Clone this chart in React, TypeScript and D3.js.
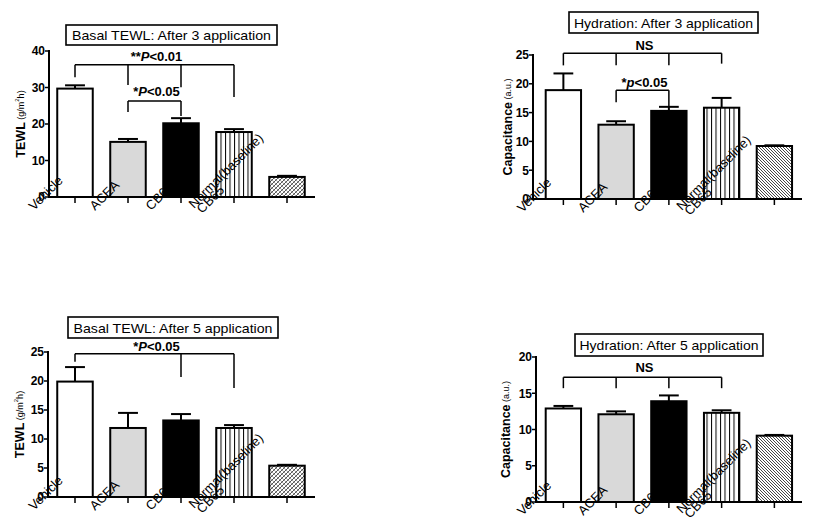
import React from "react";
import * as d3 from "d3";

const FONT = "'Liberation Sans', Arial, sans-serif";

// ---- data ----
const groups = ["Vehicle", "ACEA", "CB65", "Normal", "Other"];
const tickLabels: string[][] = [["Vehicle"], ["ACEA"], ["CB65"], ["Normal(baseline)", "CB65"], []];

const tewl3Mean = [29.7, 15.1, 20.2, 17.8, 5.5];
const tewl3Err = [0.9, 0.8, 1.4, 0.8, 0.3];
const hyd3Mean = [18.9, 12.9, 15.3, 15.85, 9.2];
const hyd3Err = [2.9, 0.6, 0.7, 1.7, 0.12];
const tewl5Mean = [19.9, 11.9, 13.2, 11.9, 5.4];
const tewl5Err = [2.5, 2.6, 1.1, 0.5, 0.15];
const hyd5Mean = [12.9, 12.1, 13.9, 12.3, 9.15];
const hyd5Err = [0.35, 0.4, 0.8, 0.35, 0.1];

const titles = [
  "Basal TEWL: After 3 application",
  "Hydration: After 3 application",
  "Basal TEWL: After 5 application",
  "Hydration: After 5 application",
];

type Part = { t: string; italic?: boolean };
type Bracket = { cats: number[]; y: number; legs: number[]; label: Part[]; labelY: number };

const brTewl3: Bracket[] = [
  { cats: [0, 1, 2, 3], y: 36.2, legs: [32.8, 30.7, 30.1, 27.4], label: [{ t: "**" }, { t: "P", italic: true }, { t: "<0.01" }], labelY: 38.6 },
  { cats: [1, 2], y: 26.3, legs: [23.3, 22.2], label: [{ t: "*" }, { t: "P", italic: true }, { t: "<0.05" }], labelY: 28.9 },
];
const brHyd3: Bracket[] = [
  { cats: [0, 1, 2, 3], y: 25.3, legs: [23.2, 23.2, 23.2, 23.5], label: [{ t: "NS" }], labelY: 26.7 },
  { cats: [1, 2], y: 18.9, legs: [16.8, 16.0], label: [{ t: "*" }, { t: "p", italic: true }, { t: "<0.05" }], labelY: 20.2 },
];
const brTewl5: Bracket[] = [
  { cats: [0, 2, 3], y: 24.7, legs: [23.3, 20.7, 18.8], label: [{ t: "*" }, { t: "P", italic: true }, { t: "<0.05" }], labelY: 25.9 },
];
const brHyd5: Bracket[] = [
  { cats: [0, 1, 2, 3], y: 17.2, legs: [15.7, 15.7, 15.7, 15.7], label: [{ t: "NS" }], labelY: 18.5 },
];

// layout offsets for the rotated category labels (start of text relative to tick / axis)
const labelOffsets: [number, number][][] = [
  [[-41, 14]],
  [[-33, 14]],
  [[-30, 14]],
  [[-40, 12], [-32, 17]],
  [],
];

type Cfg = {
  id: string;
  title: string;
  titleBox: [number, number, number, number];
  titleWidth: number;
  axisX: number;
  yTop: number;
  yBot: number;
  yMax: number;
  yStep: number;
  xRange: [number, number];
  axisEnd: number;
  means: number[];
  errs: number[];
  brackets: Bracket[];
  yMain: string;
  ySub: "tewl" | "au";
  yLabelX: number;
  fifth: "cross" | "diag";
};

const panels: Cfg[] = [
  {
    id: "p1", title: titles[0], titleBox: [66, 25, 277, 45], titleWidth: 199,
    axisX: 49, yTop: 51, yBot: 197, yMax: 40, yStep: 10, xRange: [48.5, 313.5], axisEnd: 315,
    means: tewl3Mean, errs: tewl3Err, brackets: brTewl3, yMain: "TEWL", ySub: "tewl", yLabelX: 21, fifth: "cross",
  },
  {
    id: "p2", title: titles[1], titleBox: [569, 12, 758, 33], titleWidth: 179,
    axisX: 533, yTop: 55, yBot: 199, yMax: 25, yStep: 5, xRange: [537, 800.75], axisEnd: 802,
    means: hyd3Mean, errs: hyd3Err, brackets: brHyd3, yMain: "Capacitance", ySub: "au", yLabelX: 508, fifth: "diag",
  },
  {
    id: "p3", title: titles[2], titleBox: [68, 317, 278, 338], titleWidth: 199,
    axisX: 48, yTop: 352, yBot: 497, yMax: 25, yStep: 5, xRange: [48.5, 313.5], axisEnd: 315,
    means: tewl5Mean, errs: tewl5Err, brackets: brTewl5, yMain: "TEWL", ySub: "tewl", yLabelX: 20, fifth: "cross",
  },
  {
    id: "p4", title: titles[3], titleBox: [575, 334, 763, 356], titleWidth: 179,
    axisX: 536, yTop: 357, yBot: 502, yMax: 20, yStep: 5, xRange: [537, 800.75], axisEnd: 802,
    means: hyd5Mean, errs: hyd5Err, brackets: brHyd5, yMain: "Capacitance", ySub: "au", yLabelX: 506, fifth: "diag",
  },
];

function Panel({ cfg }: { cfg: Cfg }) {
  const y = d3.scaleLinear().domain([0, cfg.yMax]).range([cfg.yBot, cfg.yTop]);
  const x = d3.scalePoint<string>().domain(groups).range(cfg.xRange).padding(0.5);
  const bw = x.step() * 0.67;
  const ticks = d3.range(0, cfg.yMax + 0.001, cfg.yStep);
  const fills = ["#ffffff", "#d9d9d9", "#000000", "url(#vstripe)", cfg.fifth === "cross" ? "url(#cross)" : "url(#diag)"];
  const [bx0, by0, bx1, by1] = cfg.titleBox;
  const yMid = (cfg.yTop + cfg.yBot) / 2;

  return (
    <g>
      {/* title */}
      <rect x={bx0} y={by0} width={bx1 - bx0} height={by1 - by0} fill="#fff" stroke="#000" strokeWidth={1.6} />
      <text x={(bx0 + bx1) / 2} y={(by0 + by1) / 2 + 5} textAnchor="middle" fontSize={13.5} fontFamily={FONT}
        textLength={cfg.titleWidth} lengthAdjust="spacingAndGlyphs">{cfg.title}</text>

      {/* y label */}
      <text transform={`translate(${cfg.yLabelX},${yMid}) rotate(-90)`} textAnchor="middle" fontFamily={FONT}
        dominantBaseline="central">
        <tspan fontWeight="bold" fontSize={12.5}>{cfg.yMain}</tspan>
        {cfg.ySub === "tewl" ? (
          <>
            <tspan fontSize={9}> (g/m</tspan>
            <tspan fontSize={6} dy={-4}>2</tspan>
            <tspan fontSize={9} dy={4}>h)</tspan>
          </>
        ) : (
          <tspan fontSize={9}> (a.u.)</tspan>
        )}
      </text>

      {/* bars */}
      {groups.map((g, i) => {
        const cx = x(g)!;
        return (
          <rect key={g} x={cx - bw / 2} y={y(cfg.means[i])} width={bw} height={cfg.yBot - y(cfg.means[i])}
            fill={fills[i]} stroke="#000" strokeWidth={2} />
        );
      })}
      {/* error bars */}
      {groups.map((g, i) => {
        const cx = x(g)!;
        const top = y(cfg.means[i] + cfg.errs[i]);
        return (
          <g key={g} stroke="#000" strokeWidth={2}>
            <line x1={cx} x2={cx} y1={y(cfg.means[i])} y2={top} />
            <line x1={cx - bw * 0.28} x2={cx + bw * 0.28} y1={top} y2={top} />
          </g>
        );
      })}

      {/* axes */}
      <line x1={cfg.axisX} x2={cfg.axisX} y1={cfg.yTop - 1} y2={cfg.yBot} stroke="#000" strokeWidth={2} />
      <line x1={cfg.axisX - 1} x2={cfg.axisEnd} y1={cfg.yBot} y2={cfg.yBot} stroke="#000" strokeWidth={2} />
      {ticks.map((t) => (
        <g key={t}>
          <line x1={cfg.axisX - 4} x2={cfg.axisX} y1={y(t)} y2={y(t)} stroke="#000" strokeWidth={1.5} />
          <text x={cfg.axisX - 4} y={y(t)} dy="0.36em" textAnchor="end" fontSize={12} fontWeight="bold"
            fontFamily={FONT}>{t}</text>
        </g>
      ))}
      {groups.map((g) => (
        <line key={g} x1={x(g)!} x2={x(g)!} y1={cfg.yBot} y2={cfg.yBot + 6} stroke="#000" strokeWidth={1.5} />
      ))}
      {/* x tick labels */}
      {groups.map((g, i) =>
        tickLabels[i].map((lab, j) => {
          const cx = x(g)!;
          const [dx, dy] = labelOffsets[i][j];
          return (
            <text key={g + j} transform={`translate(${cx + dx},${cfg.yBot + dy}) rotate(-45)`} fontSize={13}
              fontFamily={FONT}>{lab}</text>
          );
        })
      )}

      {/* significance brackets */}
      {cfg.brackets.map((b, k) => {
        const xs = b.cats.map((c) => x(groups[c])!);
        const yb = y(b.y);
        const mid = (xs[0] + xs[xs.length - 1]) / 2;
        return (
          <g key={k}>
            <line x1={xs[0]} x2={xs[xs.length - 1]} y1={yb} y2={yb} stroke="#000" strokeWidth={1.5} />
            {xs.map((xx, j) => (
              <line key={j} x1={xx} x2={xx} y1={yb} y2={y(b.legs[j])} stroke="#000" strokeWidth={1.5} />
            ))}
            <text x={mid + 2} y={y(b.labelY)} dy="0.35em" textAnchor="middle" fontSize={13} fontWeight="bold"
              fontFamily={FONT}>
              {b.label.map((p, j) => (
                <tspan key={j} fontStyle={p.italic ? "italic" : "normal"}>{p.t}</tspan>
              ))}
            </text>
          </g>
        );
      })}
    </g>
  );
}

export default function App() {
  return (
    <svg width={822} height={530} style={{ position: "absolute", left: 0, top: 0, background: "#fff" }}>
      <defs>
        <pattern id="vstripe" patternUnits="userSpaceOnUse" width={4.5} height={10}>
          <rect width={4.5} height={10} fill="#fff" />
          <line x1={0.5} x2={0.5} y1={0} y2={10} stroke="#000" strokeWidth={1} />
        </pattern>
        <pattern id="cross" patternUnits="userSpaceOnUse" width={4} height={4}>
          <rect width={4} height={4} fill="#fff" />
          <path d="M0,4 L4,0 M-1,1 L1,-1 M3,5 L5,3" stroke="#555" strokeWidth={1} />
          <path d="M0,0 L4,4 M-1,3 L1,5 M3,-1 L5,1" stroke="#777" strokeWidth={0.7} />
        </pattern>
        <pattern id="diag" patternUnits="userSpaceOnUse" width={3} height={3}>
          <rect width={3} height={3} fill="#fff" />
          <path d="M0,0 L3,3 M-1,2 L1,4 M2,-1 L4,1" stroke="#333" strokeWidth={0.9} />
        </pattern>
      </defs>
      <rect width={822} height={530} fill="#fff" />
      {panels.map((p) => (
        <Panel key={p.id} cfg={p} />
      ))}
    </svg>
  );
}
